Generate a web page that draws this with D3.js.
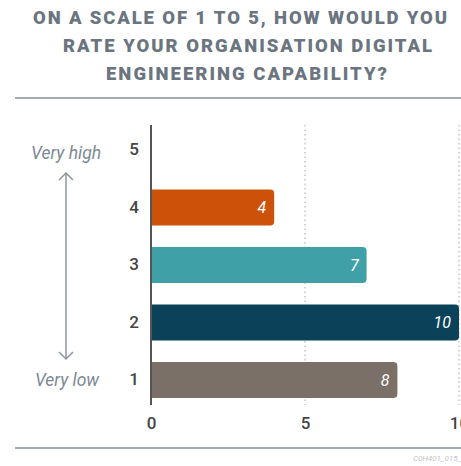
<!DOCTYPE html>
<html>
<head>
<meta charset="utf-8">
<script src="https://cdn.jsdelivr.net/npm/d3@7"></script>
<style>
  body { margin: 0; background: #fff; }
  svg { display: block; font-family: Roboto, sans-serif; }
</style>
</head>
<body>
<div id="wrapper"></div>
<script>
// Data
const ratings = ['1', '2', '3', '4', '5'];
const counts = [8, 10, 7, 4, null];
const barColors = ['#7a7067', '#0b4259', '#40a0a8', '#cc5209', '#ccc'];
const xTicks = [0, 5, 10];
const titleLines = [
  'ON A SCALE OF 1 TO 5, HOW WOULD YOU',
  'RATE YOUR ORGANISATION DIGITAL',
  'ENGINEERING CAPABILITY?'
];

// Title layout (start x, fitted width)
const titleX = [33, 63, 106];
const titleWidth = [414, 369, 281];

const dataset = ratings.map((r, i) => ({ rating: r, count: counts[i], color: barColors[i] }));

const dimensions = {
  width: 461,
  height: 466,
  margin: { top: 125, right: 2, bottom: 62, left: 151 }
};
dimensions.boundedWidth = dimensions.width - dimensions.margin.left - dimensions.margin.right;
dimensions.boundedHeight = dimensions.height - dimensions.margin.top - dimensions.margin.bottom;

const xScale = d3.scaleLinear().domain([0, 10]).range([0, 308]);
const yScale = d3.scaleBand()
  .domain(ratings.slice().reverse())
  .range([0, 280])
  .paddingInner(0.37)
  .paddingOuter(0.12);

const svg = d3.select('#wrapper')
  .append('svg')
  .attr('width', dimensions.width)
  .attr('height', dimensions.height);

// Title
svg.append('g')
  .selectAll('text')
  .data(titleLines)
  .join('text')
  .attr('x', (d, i) => titleX[i])
  .attr('y', (d, i) => 24 + i * 28)
  .attr('textLength', (d, i) => titleWidth[i])
  .attr('lengthAdjust', 'spacing')
  .attr('fill', '#6b7580')
  .style('font-size', '18.5px')
  .style('font-weight', 900)
  .text((d) => d);

// Rules
svg.append('line')
  .attr('x1', 15).attr('x2', 461).attr('y1', 98).attr('y2', 98)
  .attr('stroke', '#a3abb3').attr('stroke-width', 2);
svg.append('line')
  .attr('x1', 15).attr('x2', 461).attr('y1', 448).attr('y2', 448)
  .attr('stroke', '#a3abb3').attr('stroke-width', 2);

const bounds = svg.append('g')
  .attr('transform', `translate(${dimensions.margin.left}, ${dimensions.margin.top})`);

// Grid lines
bounds.append('g')
  .selectAll('line')
  .data(xTicks.filter((d) => d > 0))
  .join('line')
  .attr('x1', (d) => xScale(d)).attr('x2', (d) => xScale(d))
  .attr('y1', 0).attr('y2', 280)
  .attr('stroke', '#b5b5b5')
  .attr('stroke-width', 1.2)
  .attr('stroke-dasharray', '1.5,3');

// Bars
const barData = dataset.filter((d) => d.count != null);
const r = 4;
bounds.append('g')
  .selectAll('path')
  .data(barData)
  .join('path')
  .attr('fill', (d) => d.color)
  .attr('d', (d) => {
    const y = yScale(d.rating);
    const h = yScale.bandwidth();
    const w = xScale(d.count);
    return `M0,${y}H${w - r}Q${w},${y} ${w},${y + r}V${y + h - r}Q${w},${y + h} ${w - r},${y + h}H0Z`;
  });

bounds.append('g')
  .selectAll('text')
  .data(barData)
  .join('text')
  .attr('x', (d) => xScale(d.count) - 8)
  .attr('y', (d) => yScale(d.rating) + yScale.bandwidth() / 2)
  .attr('dy', '0.36em')
  .attr('text-anchor', 'end')
  .attr('fill', '#fff')
  .style('font-size', '16px')
  .style('font-style', 'italic')
  .text((d) => d.count);

// Axes
const yAxis = d3.axisLeft(yScale).tickSize(0).tickPadding(12);
const yAxisGroup = bounds.append('g').call(yAxis);
yAxisGroup.select('.domain').remove();
yAxisGroup.selectAll('text')
  .attr('fill', '#444')
  .style('font-size', '17px')
  .style('font-weight', 500)
  .style('font-family', 'Roboto, sans-serif');

bounds.append('line')
  .attr('x1', 0).attr('x2', 0).attr('y1', 0).attr('y2', 280)
  .attr('stroke', '#555').attr('stroke-width', 2);

const xAxis = d3.axisBottom(xScale).tickValues(xTicks).tickSize(0).tickPadding(12);
const xAxisGroup = bounds.append('g')
  .attr('transform', 'translate(0, 280)')
  .call(xAxis);
xAxisGroup.select('.domain').remove();
xAxisGroup.selectAll('text')
  .attr('fill', '#444')
  .style('font-size', '17px')
  .style('font-weight', 500)
  .style('font-family', 'Roboto, sans-serif');

// Scale annotation
const note = svg.append('g');
note.append('text')
  .attr('x', 66).attr('y', 159)
  .attr('text-anchor', 'middle')
  .attr('fill', '#7d8994')
  .style('font-size', '17.5px')
  .style('font-style', 'italic')
  .text('Very high');
note.append('text')
  .attr('x', 67).attr('y', 386)
  .attr('text-anchor', 'middle')
  .attr('fill', '#7d8994')
  .style('font-size', '17.5px')
  .style('font-style', 'italic')
  .text('Very low');
note.append('line')
  .attr('x1', 66).attr('x2', 66).attr('y1', 173).attr('y2', 359)
  .attr('stroke', '#8a96a0').attr('stroke-width', 1.5);
note.append('path')
  .attr('d', 'M59,180L66,173L73,180M59,352L66,359L73,352')
  .attr('fill', 'none')
  .attr('stroke', '#8a96a0').attr('stroke-width', 1.5);

// Caption
svg.append('text')
  .attr('x', 461).attr('y', 461)
  .attr('text-anchor', 'end')
  .attr('fill', '#c4c4c4')
  .style('font-size', '8px')
  .style('font-style', 'italic')
  .text('C0H401_015_');
</script>
</body>
</html>
